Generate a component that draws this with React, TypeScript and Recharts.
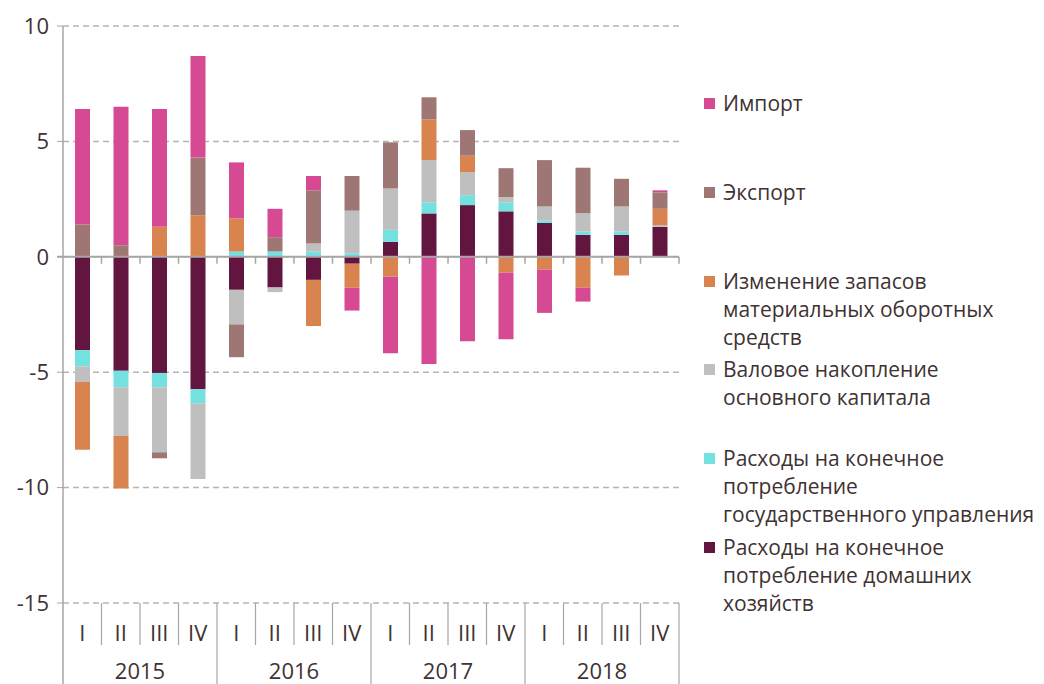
import React from "react";
import { Bar, BarChart, CartesianGrid, ReferenceLine, XAxis, YAxis } from "recharts";

const quarters = ["I", "II", "III", "IV", "I", "II", "III", "IV", "I", "II", "III", "IV", "I", "II", "III", "IV"];
const years = ["2015", "2015", "2015", "2015", "2016", "2016", "2016", "2016", "2017", "2017", "2017", "2017", "2018", "2018", "2018", "2018"];

const households = [-4.05, -4.94, -5.03, -5.74, -1.43, -1.33, -1.0, -0.3, 0.65, 1.88, 2.24, 1.97, 1.47, 0.95, 0.95, 1.29];
const government = [-0.7, -0.71, -0.62, -0.62, 0.23, 0.23, 0.23, 0.15, 0.52, 0.48, 0.43, 0.39, 0.11, 0.15, 0.15, 0];
const grossCapital = [-0.68, -2.11, -2.82, -3.27, -1.5, -0.2, 0.35, 1.85, 1.79, 1.83, 1.0, 0.23, 0.6, 0.79, 1.08, 0.08];
const inventories = [-2.93, -2.28, 1.3, 1.8, 1.43, 0, -2.0, -1.04, -0.85, 1.76, 0.71, -0.68, -0.55, -1.34, -0.81, 0.71];
const exports = [1.4, 0.5, -0.26, 2.5, -1.42, 0.62, 2.3, 1.5, 2.0, 0.96, 1.11, 1.25, 2.01, 1.97, 1.2, 0.71];
const imports = [5.0, 6.0, 5.1, 4.4, 2.43, 1.23, 0.62, -0.99, -3.33, -4.65, -3.66, -2.89, -1.88, -0.6, 0, 0.09];

const yTicks = [-15, -10, -5, 0, 5, 10];

// stacking order, bottom (nearest zero) first
const series = [
  { key: "households", values: households, color: "#62153F", lines: ["Расходы на конечное", "потребление домашних", "хозяйств"] },
  { key: "government", values: government, color: "#72E1E0", lines: ["Расходы на конечное", "потребление", "государственного управления"] },
  { key: "grossCapital", values: grossCapital, color: "#BFBFBF", lines: ["Валовое накопление", "основного капитала"] },
  { key: "inventories", values: inventories, color: "#D9844F", lines: ["Изменение запасов", "материальных оборотных", "средств"] },
  { key: "exports", values: exports, color: "#9E7674", lines: ["Экспорт"] },
  { key: "imports", values: imports, color: "#D64A94", lines: ["Импорт"] },
];

const data = quarters.map((q, i) => {
  const row: Record<string, string | number> = { q, year: years[i] };
  series.forEach((s) => {
    row[s.key] = s.values[i];
  });
  return row;
});

const FONT = "'Open Sans', sans-serif";
const TEXT = "#3E3232";
const AXIS = "#A6A6A6";
const BAND = 616 / quarters.length;

function QuarterTick(props: any) {
  const { x, y, payload, index } = props;
  const half = payload && payload.offset ? payload.offset : BAND / 2;
  const i = index as number;
  const yearEnd = i === quarters.length - 1 || years[i + 1] !== years[i];
  // year label sits on the boundary after the 2nd quarter of each year
  const showYear = i > 0 && years[i - 1] === years[i] && (i === 1 || years[i - 2] !== years[i]);
  return (
    <g>
      {i === 0 && <line x1={x - half} x2={x - half} y1={y} y2={y + 81} stroke={AXIS} strokeWidth={1.5} />}
      <line x1={x + half} x2={x + half} y1={y} y2={yearEnd ? y + 81 : y + 42} stroke={AXIS} strokeWidth={1.2} />
      <text x={x} y={y + 38} textAnchor="middle" fontSize={22} fontFamily={FONT} fill={TEXT}>
        {payload.value}
      </text>
      {showYear && (
        <text x={x + half} y={y + 76} textAnchor="middle" fontSize={22} fontFamily={FONT} fill={TEXT}>
          {years[i]}
        </text>
      )}
    </g>
  );
}

function ZeroLine(props: any) {
  const { x1, x2, y1 } = props;
  const n = quarters.length;
  const step = (x2 - x1) / n;
  const ticks = [];
  for (let k = 1; k <= n; k++) {
    ticks.push(<line key={k} x1={x1 + k * step} x2={x1 + k * step} y1={y1} y2={y1 + 7} stroke={AXIS} strokeWidth={1.5} />);
  }
  return (
    <g>
      <line x1={x1 - 6} x2={x2} y1={y1} y2={y1} stroke={AXIS} strokeWidth={2} />
      {ticks}
    </g>
  );
}

export default function App() {
  const legendItems = [...series].reverse();
  return (
    <div style={{ position: "absolute", left: 0, top: 0, width: 1044, height: 684, background: "#fff" }}>
      <BarChart
        width={1044}
        height={684}
        data={data}
        stackOffset="sign"
        barSize={15}
        margin={{ top: 26, right: 365, left: 0, bottom: 0 }}
      >
        <CartesianGrid vertical={false} stroke="#B5B5B5" strokeDasharray="6 4" strokeWidth={1.5} />
        <YAxis
          width={63}
          domain={[-15, 10]}
          ticks={yTicks}
          interval={0}
          axisLine={{ stroke: AXIS, strokeWidth: 1.5 }}
          tickLine={{ stroke: AXIS }}
          tickSize={6}
          tickMargin={8}
          tick={{ fontSize: 22, fontFamily: FONT, fill: TEXT }}
        />
        <XAxis
          dataKey="q"
          height={81}
          interval={0}
          axisLine={false}
          tickLine={false}
          tickSize={0}
          tickMargin={0}
          tick={<QuarterTick />}
        />
        {series.map((s) => (
          <Bar key={s.key} dataKey={s.key} stackId="a" fill={s.color} isAnimationActive={false} />
        ))}
        <ReferenceLine y={0} shape={<ZeroLine />} />
      </BarChart>
      <div style={{ position: "absolute", left: 704, top: 89, fontFamily: FONT, color: TEXT, fontSize: 21 }}>
        {legendItems.map((s) => (
          <div key={s.key} style={{ display: "flex", alignItems: "flex-start", height: 88.8 }}>
            <span style={{ width: 11, height: 11, background: s.color, marginTop: 9, flex: "none" }} />
            <span style={{ marginLeft: 8, lineHeight: "28px", whiteSpace: "nowrap" }}>
              {s.lines.map((l, j) => (
                <div key={j}>{l}</div>
              ))}
            </span>
          </div>
        ))}
      </div>
    </div>
  );
}
